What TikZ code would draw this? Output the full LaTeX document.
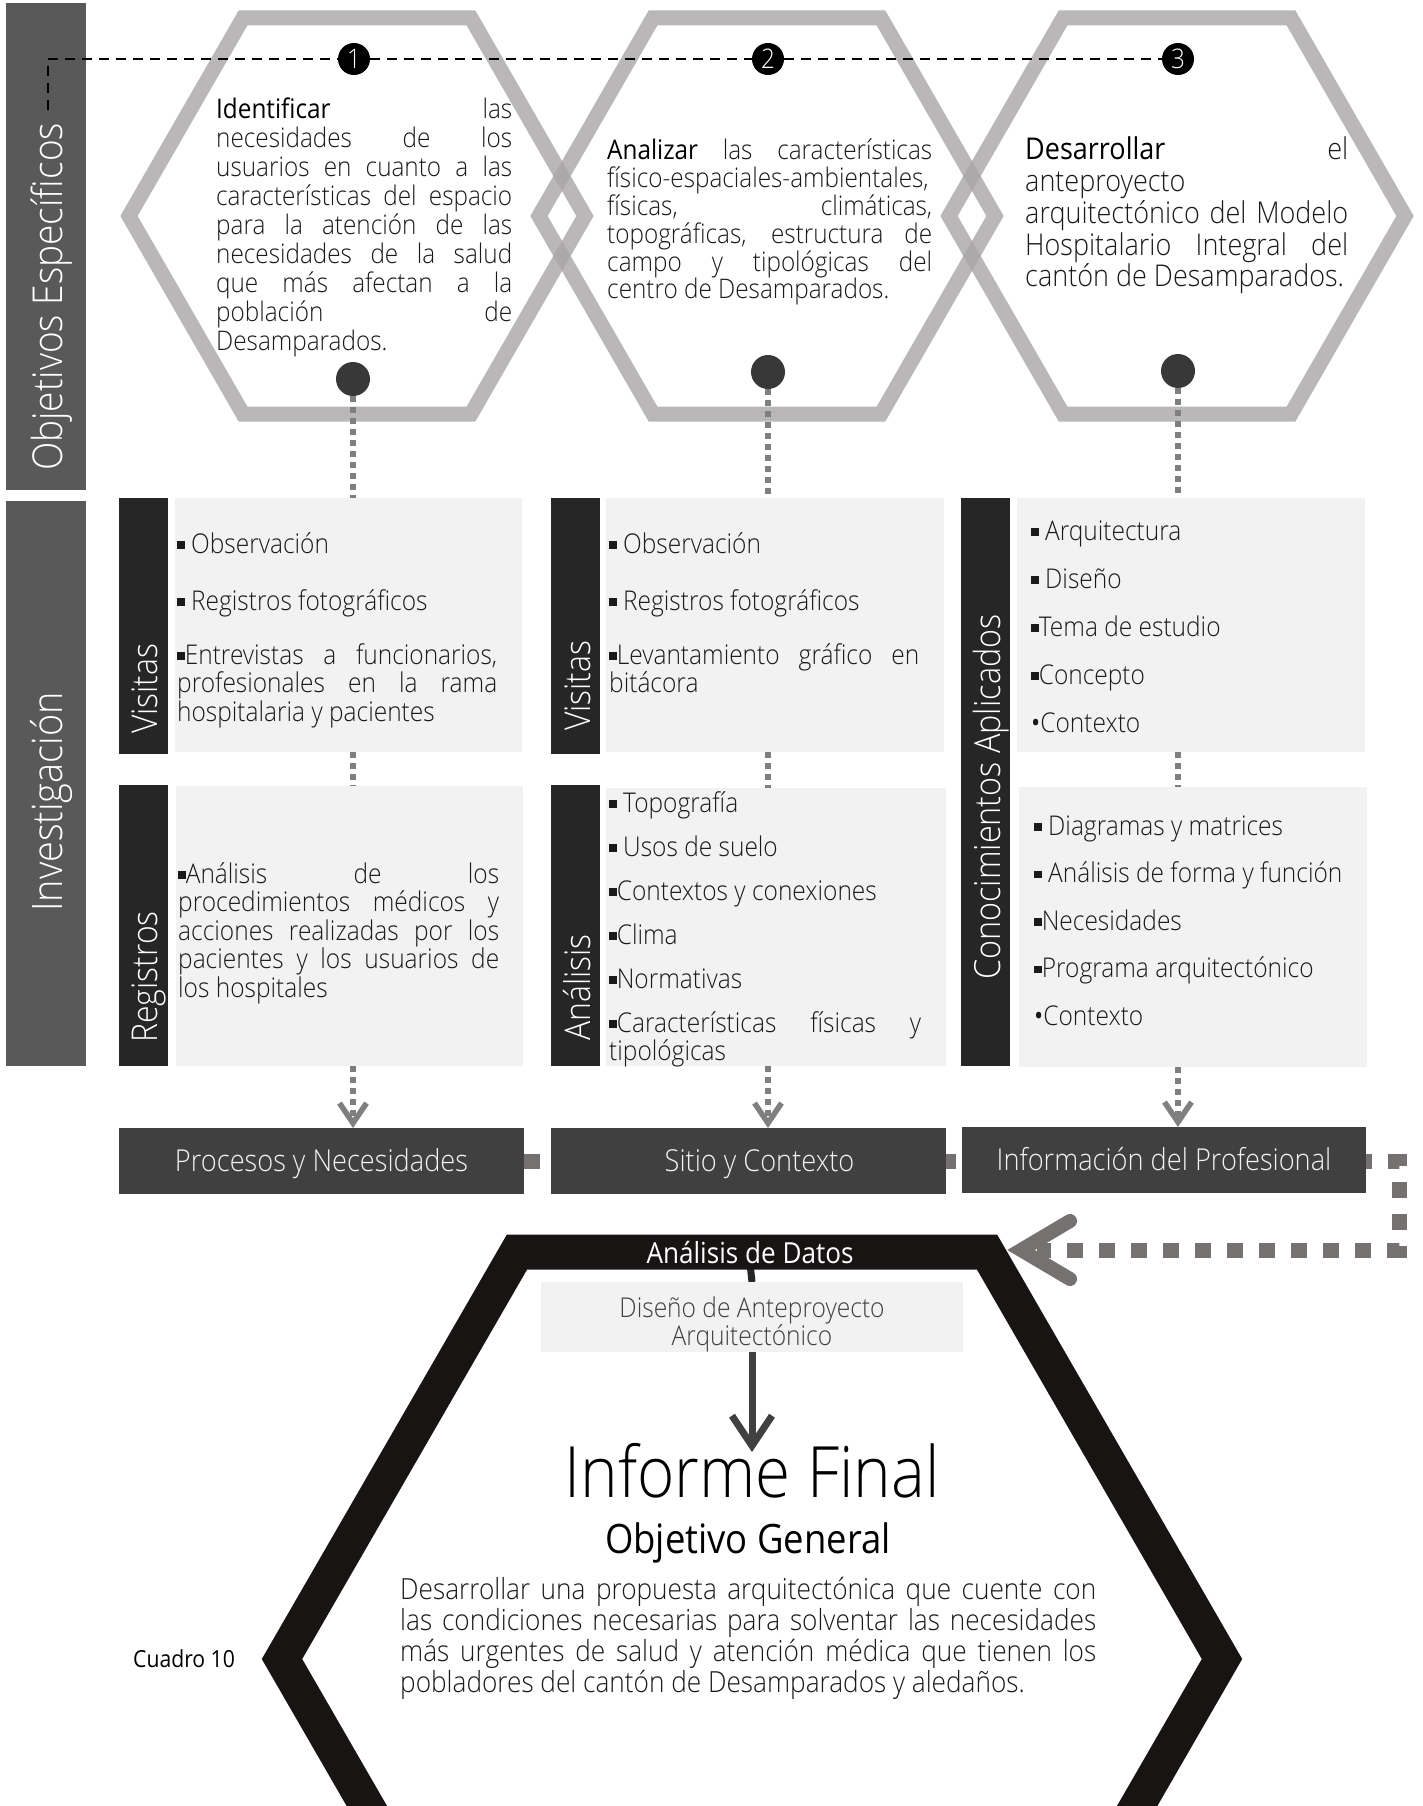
\documentclass[tikz,border=0pt]{standalone}
\usepackage{fontspec}
\setmainfont{Open Sans Light}[FakeStretch=0.9]
\newfontfamily\regf{Open Sans}[FakeStretch=0.9]
\usetikzlibrary{arrows.meta,calc}
\definecolor{barA}{HTML}{595959}
\definecolor{barB}{HTML}{262626}
\definecolor{boxL}{HTML}{F2F2F2}
\definecolor{boxD}{HTML}{404040}
\definecolor{hexg}{RGB}{168,166,166}
\definecolor{dotg}{HTML}{7F7F7F}
\definecolor{fbg}{HTML}{767171}
\definecolor{hexk}{HTML}{191414}
\definecolor{dotk}{HTML}{383838}
\definecolor{txt}{HTML}{1A1A1A}
\pgfdeclarelayer{bg}
\pgfsetlayers{bg,main}
\newcommand{\bsq}{\raisebox{0.15em}{\rule{0.28em}{0.28em}}}
\newcommand{\bdot}{{\regf •}}
\newcommand{\jl}[1]{\makebox[\linewidth][s]{#1}}
\newcommand{\fsz}[2]{\fontsize{#1}{#2}\selectfont}
\newcommand{\kw}[1]{{\regf\color{black}#1}}
\newcommand{\drawhex}[5]{\draw[#1] ({#2-#4},#3) -- ({#2-#4/2},{#3-#5}) -- ({#2+#4/2},{#3-#5}) -- ({#2+#4},#3) -- ({#2+#4/2},{#3+#5}) -- ({#2-#4/2},{#3+#5}) -- cycle;}
\tikzset{
  fillbox/.style={anchor=north west, inner sep=0, outer sep=0, draw=none},
  lbar/.style={fillbox, fill=barA},
  sbar/.style={fillbox, fill=barB},
  lbox/.style={fillbox, fill=boxL},
  dbox/.style={fillbox, fill=boxD, text=boxL, font=\fsz{30.2}{33}, text height=21.5pt, text depth=0pt},
  vlab/.style={rotate=90, anchor=base west, inner sep=0, text=white},
  para/.style={anchor=base west, inner sep=0, text=txt},
  num/.style={circle, fill=black, text=white, minimum size=32, inner sep=0, font=\fsz{27}{30}},
  bigdot/.style={circle, fill=dotk, minimum size=34, inner sep=0},
  hexline/.style={draw=hexg, line width=15, draw opacity=0.8, line join=miter},
  topdash/.style={draw=black, line width=2.8, dash pattern=on 10pt off 7pt},
  dotc/.style={draw=dotg, line width=5.5, dash pattern=on 6pt off 5pt},
  dotarr/.style={dotc, -{Straight Barb[length=20pt,width=27pt]}},
  fbline/.style={draw=fbg, line width=15, dash pattern=on 16pt off 16pt},
  fbhead/.style={draw=fbg, line width=14, line cap=round, line join=miter},
  darr/.style={draw=boxD, line width=7, -{Straight Barb[length=30pt,width=40pt]}},
}
\begin{document}
\begin{tikzpicture}[x=1pt,y=-1pt]
\useasboundingbox (0,0) rectangle (1423,1806);
\begin{pgfonlayer}{bg}
\fill[white] (0,0) rectangle (1423,1806);
\drawhex{hexline}{357}{216}{228}{198}
\drawhex{hexline}{767}{216}{228}{198}
\drawhex{hexline}{1177}{216}{228}{198}
% left label bars
\node[lbar, minimum width=80, minimum height=487] (ob) at (6,3) {};
\node[lbar, minimum width=80, minimum height=565] (ib) at (6,501) {};
\end{pgfonlayer}

\node[vlab, font=\fsz{41.2}{46}] (objl) at (62,471) {Objetivos Específicos};
\node[vlab, font=\fsz{42}{46}] (invl) at (62,912) {Investigación};

% numbered circles and dots
\node[num] (n1) at (354,59) {1};
\node[num] (n2) at (768,59) {2};
\node[num] (n3) at (1178,59) {3};
\node[bigdot] (d1) at (353,379) {};
\node[bigdot] (d2) at (768,372) {};
\node[bigdot] (d3) at (1178,371) {};
\coordinate (dstart) at (48,110);

% objectives text
\node[para] (t1) at (216,119) {\parbox[t]{296pt}{\fsz{27}{29}%
\jl{\kw{Identificar} las}\\
\jl{necesidades de los}\\
\jl{usuarios en cuanto a las}\\
\jl{características del espacio}\\
\jl{para la atención de las}\\
\jl{necesidades de la salud}\\
\jl{que más afectan a la}\\
\jl{población de}\\
Desamparados.}};
\node[para] (t2) at (607,160) {\parbox[t]{325pt}{\fsz{27}{27.8}%
\jl{\kw{Analizar} las características}\\
\jl{físico-espaciales-ambientales,}\\
\jl{físicas, climáticas,}\\
\jl{topográficas, estructura de}\\
\jl{campo y tipológicas del}\\
centro de Desamparados.}};
\node[para] (t3) at (1025,160) {\parbox[t]{323pt}{\fsz{30}{31.7}%
\jl{\kw{Desarrollar} el}\\
anteproyecto\\
\jl{arquitectónico del Modelo}\\
\jl{Hospitalario Integral del}\\
cantón de Desamparados.}};

% column bars
\node[sbar, minimum width=49.5, minimum height=256] (vb1) at (118.5,498) {};
\node[sbar, minimum width=49.5, minimum height=281] (rb1) at (118.5,785) {};
\node[sbar, minimum width=49, minimum height=256] (vb2) at (551,498) {};
\node[sbar, minimum width=49, minimum height=281] (ab2) at (551,785) {};
\node[sbar, minimum width=49, minimum height=568] (cb3) at (961,498) {};
\node[vlab, font=\fsz{35.5}{38}] (vis1) at (157,734) {Visitas};
\node[vlab, font=\fsz{35.5}{38}] (reg1) at (157,1043) {Registros};
\node[vlab, font=\fsz{35.5}{38}] (vis2) at (590,731) {Visitas};
\node[vlab, font=\fsz{35.5}{38}] (ana2) at (590,1041) {Análisis};
\node[vlab, font=\fsz{36}{38}] (con3) at (1000,980) {Conocimientos Aplicados};

% light boxes
\node[lbox, minimum width=347, minimum height=254] (b11) at (175,498) {};
\node[lbox, minimum width=347, minimum height=280] (b12) at (176,786) {};
\node[lbox, minimum width=338, minimum height=254] (b21) at (606,498) {};
\node[lbox, minimum width=340, minimum height=278] (b22) at (606,788) {};
\node[lbox, minimum width=348, minimum height=254] (b31) at (1017,498) {};
\node[lbox, minimum width=348, minimum height=280] (b32) at (1019,787) {};

\node[para] (x11) at (177,553) {\parbox[t]{320pt}{\fsz{27.2}{28.5}%
\bsq\ Observación\\[28.5pt]
\bsq\ Registros fotográficos\\[25.5pt]
\jl{\bsq Entrevistas a funcionarios,}\\
\jl{profesionales en la rama}\\
hospitalaria y pacientes}};
\node[para] (x12) at (178,883) {\parbox[t]{321pt}{\fsz{27.2}{28.5}%
\jl{\bsq Análisis de los}\\
\jl{procedimientos médicos y}\\
\jl{acciones realizadas por los}\\
\jl{pacientes y los usuarios de}\\
los hospitales}};
\node[para] (x21) at (609,553) {\parbox[t]{310pt}{\fsz{27.2}{28.5}%
\bsq\ Observación\\[28.5pt]
\bsq\ Registros fotográficos\\[25.5pt]
\jl{\bsq Levantamiento gráfico en}\\
bitácora}};
\node[para] (x22) at (609,812) {\parbox[t]{312pt}{\fsz{27.2}{28.5}%
\bsq\ Topografía\\[15.5pt]
\bsq\ Usos de suelo\\[15.5pt]
\bsq Contextos y conexiones\\[15.5pt]
\bsq Clima\\[15.5pt]
\bsq Normativas\\[15.5pt]
\jl{\bsq Características físicas y}\\
tipológicas}};
\node[para] (x31) at (1031,540) {\parbox[t]{330pt}{\fsz{27.2}{28.5}%
\bsq\ Arquitectura\\[19.5pt]
\bsq\ Diseño\\[19.5pt]
\bsq Tema de estudio\\[19.5pt]
\bsq Concepto\\[19.5pt]
\bdot Contexto}};
\node[para] (x32) at (1034,835) {\parbox[t]{330pt}{\fsz{27.2}{28.5}%
\bsq\ Diagramas y matrices\\[19pt]
\bsq\ Análisis de forma y función\\[19pt]
\bsq Necesidades\\[19pt]
\bsq Programa arquitectónico\\[19pt]
\bdot Contexto}};

% result boxes
\node[dbox, minimum width=405, minimum height=66] (proc) at (119,1128) {Procesos y Necesidades};
\node[dbox, minimum width=395, minimum height=66] (sit) at (551,1128) {\hspace*{22pt}Sitio y Contexto};
\node[dbox, minimum width=404, minimum height=66] (info) at (962,1127) {Información del Profesional};

% final part
\node[anchor=base, inner sep=0, text=white, font=\regf\fsz{29}{32}] (adt) at (750,1263) {Análisis de Datos};
\node[lbox, minimum width=422, minimum height=70] (dis) at (541,1282) {};
\node[anchor=base, inner sep=0, text=boxD] (dist) at (752,1317) {\parbox[t]{420pt}{\centering\fsz{27.3}{28.5}Diseño de Anteproyecto\\ Arquitectónico}};
\node[anchor=base, inner sep=0, font=\fsz{70.8}{72}] (inf) at (752,1497) {Informe Final};
\node[anchor=base, inner sep=0, font=\regf\fsz{40.5}{44}] (og) at (748,1553) {Objetivo General};
\node[para] (ogp) at (400,1599) {\parbox[t]{696pt}{\fsz{29.1}{31.3}%
\jl{Desarrollar una propuesta arquitectónica que cuente con}\\
\jl{las condiciones necesarias para solventar las necesidades}\\
\jl{más urgentes de salud y atención médica que tienen los}\\
pobladores del cantón de Desamparados y aledaños.}};
\node[anchor=base west, inner sep=0, font=\regf\fsz{23.5}{25}] (cua) at (133,1667) {Cuadro 10};

\coordinate (fbA) at (1399,1161);
\coordinate (fbB) at (1399,1250);
\coordinate (fbtip) at (1007,1250);
\coordinate (inftop) at (752,1452);

\begin{pgfonlayer}{bg}
\draw[topdash] (dstart) |- (n1);
\draw[topdash] (n1) -- (n2);
\draw[topdash] (n2) -- (n3);
\draw[dotc] (d1) -- (d1 |- b11.north);
\draw[dotc] (b11.south -| d1) -- (b12.north -| d1);
\draw[dotarr] (b12.south -| d1) -- (proc.north -| d1);
\draw[dotc] (d2) -- (d2 |- b21.north);
\draw[dotc] (b21.south -| d2) -- (b22.north -| d2);
\draw[dotarr] (b22.south -| d2) -- (sit.north -| d2);
\draw[dotc] (d3) -- (d3 |- b31.north);
\draw[dotc] (b31.south -| d3) -- (b32.north -| d3);
\draw[dotarr] (b32.south -| d3) -- (info.north -| d3);
\draw[fbline] (proc.east) -- (fbA) -- (fbB) -- ($(fbtip)+(30,0)$);
\draw[draw=barB, line width=7] (adt.south) -- (dis.north);
\drawhex{line width=35, draw=hexk, line join=miter}{752}{1659}{470}{407}
\end{pgfonlayer}
\draw[fbhead] ($(fbtip)+(63,-29)$) -- ($(fbtip)+(14,0)$) -- ($(fbtip)+(63,29)$);
\draw[darr] (dis.south) -- (inftop);
\end{tikzpicture}
\end{document}
